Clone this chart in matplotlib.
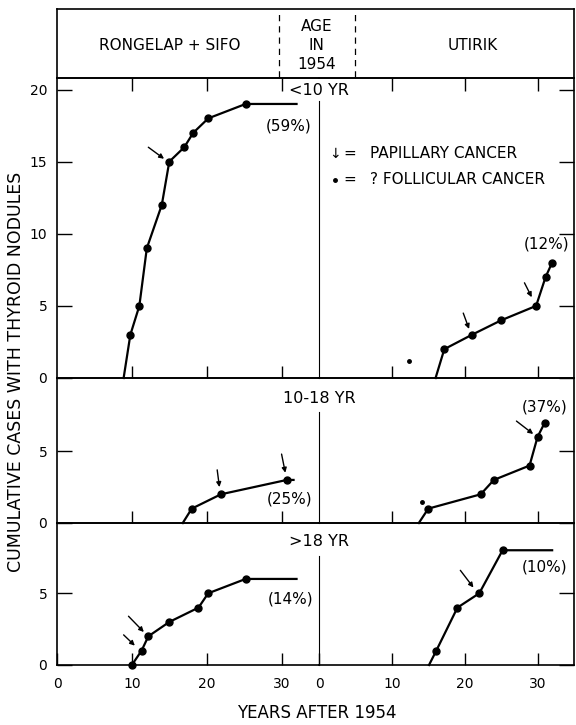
import matplotlib.pyplot as plt

plt.rcParams["font.family"] = ["DejaVu Sans"]

# ---- data (years after 1954, cumulative cases) ----
# Rongelap + Sifo
rs_lt10_start = 8.9
rs_lt10_years = [9.8, 11, 12, 14, 15, 17, 18.2, 20.2, 25.2]
rs_lt10_cases = [3, 5, 9, 12, 15, 16, 17, 18, 19]
rs_lt10_end = 32

rs_10to18_start = 16.8
rs_10to18_years = [18, 21.9, 30.7]
rs_10to18_cases = [1, 2, 3]
rs_10to18_end = 31.6

rs_gt18_start = 10
rs_gt18_years = [10, 11.3, 12.2, 15, 18.9, 20.2, 25.2]
rs_gt18_cases = [0, 1, 2, 3, 4, 5, 6]
rs_gt18_end = 32

# Utirik
ut_lt10_start = 16
ut_lt10_years = [17.2, 21, 25, 29.8, 31.1, 32]
ut_lt10_cases = [2, 3, 4, 5, 7, 8]
ut_lt10_end = None

ut_10to18_start = 13.7
ut_10to18_years = [15, 22.2, 24, 28.9, 30, 31]
ut_10to18_cases = [1, 2, 3, 4, 6, 7]
ut_10to18_end = None

ut_gt18_start = 15.1
ut_gt18_years = [16.1, 19, 22, 25.2]
ut_gt18_cases = [1, 4, 5, 8]
ut_gt18_end = 32

# percentages
pct_labels = [["(59%)", "(12%)"], ["(25%)", "(37%)"], ["(14%)", "(10%)"]]
age_groups = ["<10 YR", "10-18 YR", ">18 YR"]

# follicular marks (stray dots)
ut_lt10_foll = (12.4, 1.15)
ut_10to18_foll = (14.2, 1.45)

# papillary arrows: (tip x, tip y, tail x, tail y)
arrows = [
    [[(14.3, 15.2, 12.2, 16.0)], [(20.6, 3.4, 19.8, 4.5), (29.2, 5.6, 28.2, 6.6)]],
    [[(21.7, 2.5, 21.4, 3.7), (30.5, 3.5, 30.0, 4.8)], [(29.4, 6.2, 27.1, 7.1)]],
    [[(11.6, 2.3, 9.55, 3.4), (10.4, 1.35, 8.9, 2.1)], [(21.2, 5.4, 19.4, 6.6)]],
]

series = [
    [(rs_lt10_start, rs_lt10_years, rs_lt10_cases, rs_lt10_end),
     (ut_lt10_start, ut_lt10_years, ut_lt10_cases, ut_lt10_end)],
    [(rs_10to18_start, rs_10to18_years, rs_10to18_cases, rs_10to18_end),
     (ut_10to18_start, ut_10to18_years, ut_10to18_cases, ut_10to18_end)],
    [(rs_gt18_start, rs_gt18_years, rs_gt18_cases, rs_gt18_end),
     (ut_gt18_start, ut_gt18_years, ut_gt18_cases, ut_gt18_end)],
]

W, H = 576, 725


def box(x0, y0, x1, y1):
    return [x0 / W, 1 - y1 / H, (x1 - x0) / W, (y1 - y0) / H]


fig = plt.figure(figsize=(5.76, 7.25), dpi=100)

# header box
hdr = fig.add_axes(box(57, 9, 574, 78))
hdr.set_xticks([])
hdr.set_yticks([])
hdr.set_xlim(0, 1)
hdr.set_ylim(0, 1)
for s in hdr.spines.values():
    s.set_linewidth(1.2)
hdr.text(0.219, 0.47, "RONGELAP + SIFO", ha="center", va="center", fontsize=11)
hdr.text(0.805, 0.47, "UTIRIK", ha="center", va="center", fontsize=11)
for yy, t in zip([0.74, 0.47, 0.19], ["AGE", "IN", "1954"]):
    hdr.text(0.502, yy, t, ha="center", va="center", fontsize=11)
for xx in [(279 - 57) / 517, (355 - 57) / 517]:
    hdr.plot([xx, xx], [0.02, 0.95], color="black", lw=0.9, ls=(0, (5, 4)))

rows = [(78, 378, 20.8), (378, 523, 10.1), (523, 665, 9.9)]
div_top = [19.2, 7.7, 7.6]
label_y = [19.95, 8.7, 8.6]
pct_pos = [[(31.0, 17.5), (31.3, 9.3)], [(31.1, 1.7), (31.0, 8.1)], [(31.2, 4.6), (30.9, 6.8)]]

for r, (ytop, ybot, ymax) in enumerate(rows):
    axl = fig.add_axes(box(57, ytop, 319, ybot))
    axr = fig.add_axes(box(319, ytop, 574, ybot))
    for c, ax in enumerate([axl, axr]):
        ax.set_facecolor("none")
        ax.set_xlim(0, 35)
        ax.set_ylim(0, ymax)
        for s in ax.spines.values():
            s.set_linewidth(1.2)
        if r < 2:
            ax.set_xticks([10, 20, 30])
            ax.tick_params(axis="x", labelbottom=False)
        else:
            ax.set_xticks([0, 10, 20, 30])
            ax.tick_params(axis="x", labelsize=10, pad=9)
        ax.tick_params(axis="x", direction="in", length=9, width=1,
                       top=(r == 0), bottom=True)
        if r == 0:
            ax.set_yticks([0, 5, 10, 15, 20])
        else:
            ax.set_yticks([0, 5])
        ax.tick_params(axis="y", direction="in", length=11, width=1,
                       labelsize=10, pad=7)

        start, yrs, cases, end = series[r][c]
        xs = list(yrs)
        ys = list(cases)
        if start != yrs[0]:
            xs = [start] + xs
            ys = [0] + ys
        if end is not None:
            xs = xs + [end]
            ys = ys + [cases[-1]]
        ax.plot(xs, ys, color="black", lw=1.6, zorder=3, clip_on=False)
        ax.plot(yrs, cases, "o", color="black", ms=5, zorder=4, clip_on=False)

        for tx, ty, sx, sy in arrows[r][c]:
            ax.annotate("", xy=(tx, ty), xytext=(sx, sy),
                        arrowprops=dict(arrowstyle="-|>", color="black", lw=1,
                                        mutation_scale=7, shrinkA=0, shrinkB=0))
        px, py = pct_pos[r][c]
        ax.text(px, py, pct_labels[r][c], ha="center", va="center", fontsize=11)

    axl.spines["right"].set_visible(False)
    axr.spines["left"].set_linewidth(0.8)
    axr.spines["left"].set_bounds(0, div_top[r])
    axr.yaxis.tick_right()
    axr.tick_params(axis="y", labelright=False)
    axr.text(0, label_y[r], age_groups[r], ha="center", va="center",
             fontsize=11.5, zorder=6, clip_on=False)

    if r == 0:
        axr.plot(*ut_lt10_foll, "o", color="black", ms=2.5)
        axr.text(2.2, 15.55, "\u2193", ha="center", va="center", fontsize=10)
        axr.text(4.2, 15.55, "=", ha="center", va="center", fontsize=11)
        axr.text(7.0, 15.55, "PAPILLARY CANCER", ha="left", va="center", fontsize=11)
        axr.plot(2.2, 13.75, "o", color="black", ms=2.5)
        axr.text(4.2, 13.75, "=", ha="center", va="center", fontsize=11)
        axr.text(7.0, 13.75, "? FOLLICULAR CANCER", ha="left", va="center", fontsize=11)
    if r == 1:
        axr.plot(*ut_10to18_foll, "o", color="black", ms=2.5)

fig.text(0.55, 0.017, "YEARS AFTER 1954", ha="center", va="center", fontsize=12)
fig.text(0.027, 0.487, "CUMULATIVE CASES WITH THYROID NODULES", rotation=90,
         ha="center", va="center", fontsize=12.5)

fig.savefig("out.png", dpi=100)
